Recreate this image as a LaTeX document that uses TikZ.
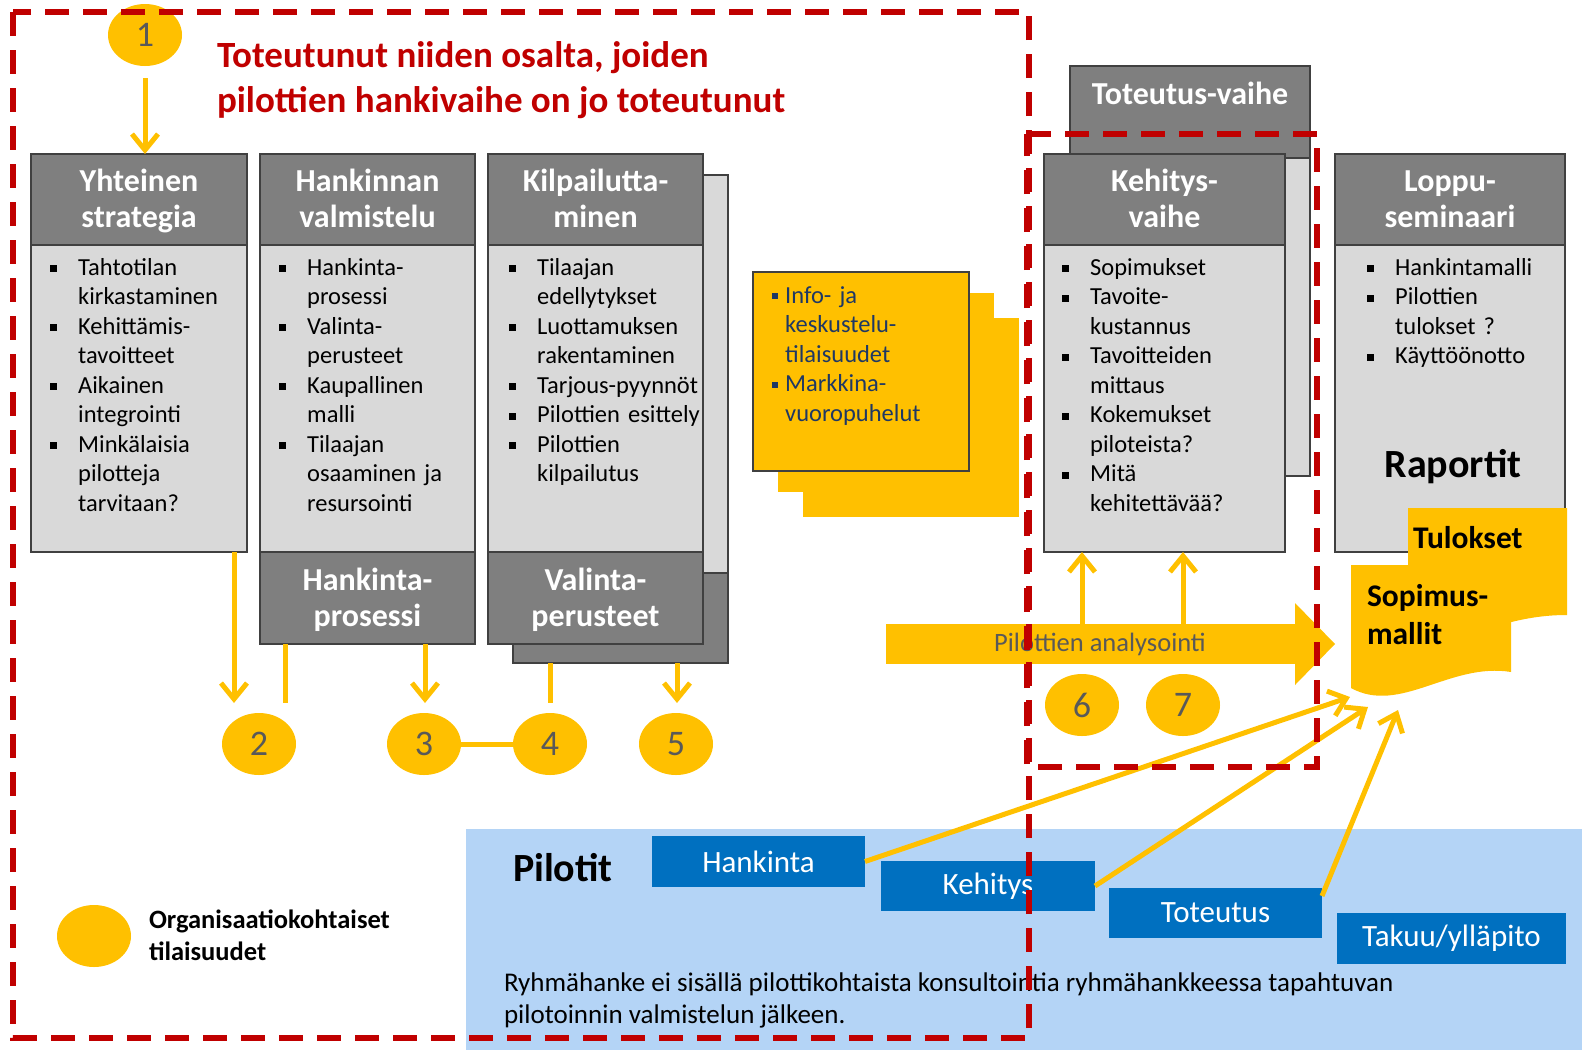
\documentclass[tikz,border=0pt]{standalone}
\usepackage{fontspec}
\setmainfont{Carlito}
\usetikzlibrary{shapes.geometric,arrows.meta,calc}
\definecolor{redd}{HTML}{C00000}
\definecolor{yel}{HTML}{FFC000}
\definecolor{hdrg}{HTML}{7F7F7F}
\definecolor{bodyg}{HTML}{D9D9D9}
\definecolor{edgeg}{HTML}{404040}
\definecolor{numg}{HTML}{595959}
\definecolor{navy}{HTML}{1F3864}
\definecolor{pblue}{HTML}{0070C0}
\definecolor{lblue}{HTML}{B4D4F6}
\newlength\bulind
\setlength\bulind{28pt}
\newcommand\bsq{\rule[3pt]{7pt}{7pt}}
\newcommand\itm[1]{\par\hangindent=\bulind\hangafter=1\noindent\makebox[\bulind][l]{\bsq}\strut#1}
\newcommand\hs{\rule[-8pt]{0pt}{36pt}}
\newcommand\hdrfont{\bfseries\fontsize{32}{36}\selectfont}
\newcommand\btfont{\fontsize{24.5}{29.5}\selectfont}
\newcommand\numfont{\fontsize{36}{40}\selectfont}
\begin{document}
\begin{tikzpicture}[x=1pt,y=-1pt,
 hdr/.style={draw=edgeg,line width=1.2pt,fill=hdrg,text=white,font=\hdrfont,align=center,inner sep=0pt,outer sep=0pt},
 bdy/.style={draw=edgeg,line width=1.2pt,fill=bodyg,inner sep=0pt,outer sep=0pt},
 btxt/.style={anchor=north west,inner sep=0pt,text width=300pt,align=left,font=\btfont},
 numc/.style={ellipse,fill=yel,minimum width=74pt,minimum height=62pt,inner sep=0pt,text=numg,font=\numfont},
 yline/.style={draw=yel,line width=5pt},
 yarr/.style={yline,-{Straight Barb[length=16pt,width=26pt]}},
 rdash/.style={draw=redd,line width=5.5pt,dash pattern=on 24pt off 14pt},
 bbox/.style={fill=pblue,text=white,font=\fontsize{31}{34}\selectfont,inner sep=0pt,outer sep=0pt},
 plain/.style={inner sep=0pt,outer sep=0pt}
]
\useasboundingbox (0,0) rectangle (1582,1050);

% Pilotit background
\node[plain,fill=lblue,minimum width=1116pt,minimum height=221pt,anchor=north west] (pbg) at (466,829) {};

% Box 1
\node[hdr,minimum width=216pt,minimum height=91pt] (h1) at (139,199.5) {\hs Yhteinen\\\hs strategia};
\node[bdy,minimum width=216pt,minimum height=307pt,anchor=north] (b1) at (h1.south) {};
% Box 2
\node[hdr,minimum width=215pt,minimum height=91pt] (h2) at (367.5,199.5) {\hs Hankinnan\\\hs valmistelu};
\node[bdy,minimum width=215pt,minimum height=307pt,anchor=north] (b2) at (h2.south) {};
\node[hdr,minimum width=215pt,minimum height=92pt,anchor=north] (f2) at (b2.south) {\hs Hankinta-\\\hs prosessi};
% Box 3 shadow
\node[bdy,minimum width=215pt,minimum height=398pt,anchor=north west] (sh3) at (513,175) {};
\node[hdr,minimum width=215pt,minimum height=90pt,anchor=north] (sh3d) at (sh3.south) {};
% Box 3
\node[hdr,minimum width=215pt,minimum height=91pt] (h3) at (595.5,199.5) {\hs Kilpailutta-\\\hs minen};
\node[bdy,minimum width=215pt,minimum height=307pt,anchor=north] (b3) at (h3.south) {};
\node[hdr,minimum width=215pt,minimum height=92pt,anchor=north] (f3) at (b3.south) {\hs Valinta-\\\hs perusteet};

% bullet texts
\node[btxt] (t1) at (50,245.35) {\itm{Tahtotilan\newline kirkastaminen}\itm{Kehittämis-\newline tavoitteet}\itm{Aikainen\newline integrointi}\itm{Minkälaisia\newline pilotteja\newline tarvitaan?}\par};
\node[btxt] (t2) at (279,245.35) {\itm{Hankinta-\newline prosessi}\itm{Valinta-\newline perusteet}\itm{Kaupallinen\newline malli}\itm{Tilaajan\newline osaaminen ja\newline resursointi}\par};
\node[btxt] (t3) at (509,245.35) {\itm{Tilaajan\newline edellytykset}\itm{Luottamuksen\newline rakentaminen}\itm{Tarjous-pyynnöt}\itm{Pilottien esittely}\itm{Pilottien\newline kilpailutus}\par};

% Info stack
\node[plain,fill=yel,minimum width=216pt,minimum height=199pt,anchor=north west] (i3) at (803,318) {};
\node[plain,fill=yel,minimum width=216pt,minimum height=199pt,anchor=north west] (i2) at (778,293) {};
\node[plain,fill=yel,draw=edgeg,line width=1.2pt,minimum width=216pt,minimum height=199pt,anchor=north west] (i1) at (753,272) {};
\node[btxt,text=navy] (it) at (772,273.35) {\setlength\bulind{13pt}\renewcommand\bsq{\rule[4pt]{6pt}{6pt}}\itm{Info- ja\newline keskustelu-\newline tilaisuudet}\itm{Markkina-\newline vuoropuhelut}\par};

% Toteutus-vaihe
\node[hdr,minimum width=240pt,minimum height=92pt,anchor=north] (th) at (1190,66) {};
\node[bdy,minimum width=240pt,minimum height=318pt,anchor=north] (tb) at (th.south) {};
\node[plain,text=white,font=\hdrfont] (tt) at (1190,93) {Toteutus-vaihe};

% Kehitys-vaihe
\node[hdr,minimum width=241pt,minimum height=91pt] (kh) at (1164.5,199.5) {\hs Kehitys-\\\hs vaihe};
\node[bdy,minimum width=241pt,minimum height=307pt,anchor=north] (kb) at (kh.south) {};
\node[btxt] (kt) at (1062,245.35) {\itm{Sopimukset}\itm{Tavoite-\newline kustannus}\itm{Tavoitteiden\newline mittaus}\itm{Kokemukset\newline piloteista?}\itm{Mitä\newline kehitettävää?}\par};

% Loppu-seminaari
\node[hdr,minimum width=230pt,minimum height=91pt] (lh) at (1450,199.5) {\hs Loppu-\\\hs seminaari};
\node[bdy,minimum width=230pt,minimum height=307pt,anchor=north] (lb) at (lh.south) {};
\node[btxt] (lt) at (1367,245.35) {\itm{Hankintamalli}\itm{Pilottien\newline tulokset ?}\itm{Käyttöönotto}\par};
\node[plain,font=\bfseries\fontsize{40}{44}\selectfont] (rp) at (1453,467) {Raportit};

% Tulokset and Sopimus-mallit
\fill[yel] (1408,508) -- (1567,508) -- (1567,615) .. controls (1545,615) and (1525,618) .. (1500,625) -- (1408,625) -- cycle;
\node[plain,anchor=base west,font=\bfseries\fontsize{31.5}{34}\selectfont] (tul) at (1413,548) {Tulokset};
\fill[yel] (1351,565) -- (1511,565) -- (1511,672) .. controls (1450,662) and (1400,715) .. (1351,688) -- cycle;
\node[plain,anchor=base west,font=\bfseries\fontsize{31.5}{34}\selectfont] (sop1) at (1367,606) {Sopimus-};
\node[plain,anchor=base west,font=\bfseries\fontsize{31.5}{34}\selectfont] (sop2) at (1367,644) {mallit};

% circles
\node[numc] (c1) at (145,35) {1};
\node[numc] (c2) at (259,744) {2};
\node[numc] (c3) at (424,744) {3};
\node[numc] (c4) at (550,744) {4};
\node[numc] (c5) at (676,744) {5};
\node[numc] (c6) at (1082,705) {6};
\node[numc] (c7) at (1183,705) {7};

% analysis arrow
\node[plain,fill=yel,minimum width=409pt,minimum height=40pt] (an) at (1090.5,644) {};
\fill[yel] ($(an.east)+(0,-41)$) -- ($(an.east)+(40,0)$) -- ($(an.east)+(0,41)$) -- cycle;
\node[plain,text=numg,font=\fontsize{26.5}{30}\selectfont] (ant) at (1100,644) {Pilottien analysointi};
\draw[yarr] (an.north -| c6) -- (kb.south -| c6);
\draw[yarr] (an.north -| c7) -- (kb.south -| c7);

% connectors top-left
\draw[yarr,shorten <=12pt] (c1.south) -- (h1.north -| c1);
\coordinate (e2) at (234,703);
\coordinate (e2b) at (285,703);
\coordinate (e3) at (425,703);
\coordinate (e4) at (550,703);
\coordinate (e5) at (677,703);
\draw[yarr] (b1.south -| e2) -- (e2);
\draw[yline] (f2.south -| e2b) -- (e2b);
\draw[yarr] (f2.south -| e3) -- (e3);
\draw[yline] (sh3d.south -| e4) -- (e4);
\draw[yarr] (sh3d.south -| e5) -- (e5);
\draw[yline] (c3.east) -- (c4.west);

% Pilotit
\node[plain,anchor=west,font=\bfseries\fontsize{40}{44}\selectfont] (pil) at (513,868) {Pilotit};
\node[bbox,minimum width=213pt,minimum height=51pt] (hk) at (758.5,861.5) {Hankinta};
\node[bbox,minimum width=214pt,minimum height=50pt] (ke) at (988,886) {Kehitys};
\node[bbox,minimum width=213pt,minimum height=50pt] (to) at (1215.5,913) {Toteutus};
\node[bbox,minimum width=229pt,minimum height=51pt] (ta) at (1451.5,938.5) {Takuu/ylläpito};
\coordinate (p1) at (1350,697);
\coordinate (p2) at (1368,707);
\coordinate (p3) at (1398,710);
\draw[yarr] (hk.east) -- (p1);
\draw[yarr] (ke.east) -- (p2);
\draw[yarr] ($(to.north east)+(0,8)$) -- (p3);

% titles and notes
\node[plain,anchor=base west,text=redd,font=\bfseries\fontsize{37}{42}\selectfont] (ttl1) at (217,67.5) {Toteutunut niiden osalta, joiden};
\node[plain,anchor=base west,text=redd,font=\bfseries\fontsize{37}{42}\selectfont] (ttl2) at (217,112.5) {pilottien hankivaihe on jo toteutunut};
\node[numc] (cl) at (94,936) {};
\node[plain,anchor=base west,font=\bfseries\fontsize{26.5}{30}\selectfont] (lg1) at (149,928) {Organisaatiokohtaiset};
\node[plain,anchor=base west,font=\bfseries\fontsize{26.5}{30}\selectfont] (lg2) at (149,960) {tilaisuudet};
\node[plain,anchor=base west,font=\fontsize{27}{30}\selectfont] (nt1) at (504,991) {Ryhmähanke ei sisällä pilottikohtaista konsultointia ryhmähankkeessa tapahtuvan};
\node[plain,anchor=base west,font=\fontsize{27}{30}\selectfont] (nt2) at (504,1023) {pilotoinnin valmistelun jälkeen.};

% dashed frames
\draw[rdash] (13,12) rectangle (1029,1038);
\draw[rdash] (1027,134) -- (1317,134) -- (1317,767) -- (1027,767) -- cycle;
\end{tikzpicture}
\end{document}
